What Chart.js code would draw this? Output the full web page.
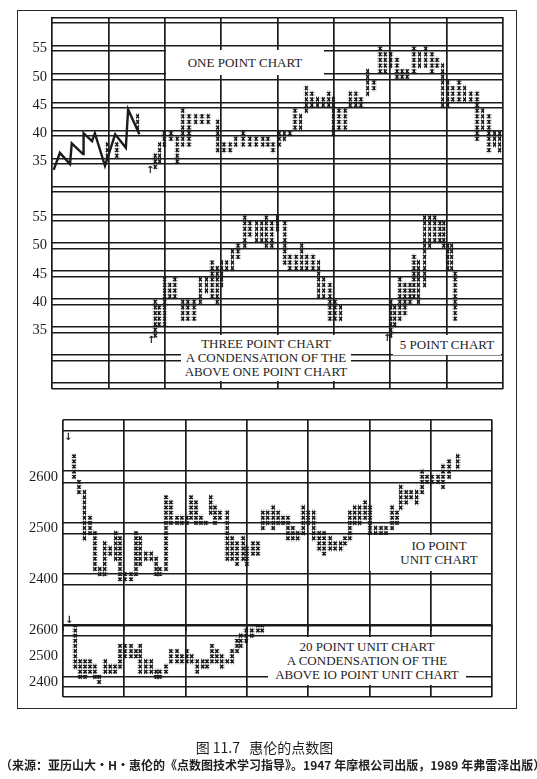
<!DOCTYPE html>
<html>
<head>
<meta charset="utf-8">
<script src="https://cdn.jsdelivr.net/npm/chart.js@4.4.1/dist/chart.umd.min.js"></script>
<style>
  body { margin: 0; background: #fff; }
  #page { position: relative; width: 537px; height: 779px; overflow: hidden; background: #fff; }
  #page canvas { position: absolute; left: 0; top: 0; }
  .frame { position: absolute; left: 17px; top: 10px; width: 500px; height: 699px; box-sizing: border-box; border: 1.5px solid #2a2a2a; }
  .tag { position: absolute; background: #fff; display: flex; flex-direction: column; align-items: center; justify-content: center;
         font: 13px "Liberation Serif", serif; line-height: 14px; color: #1e1e1e; white-space: nowrap; }
  .arrow { position: absolute; font: bold 10px "DejaVu Sans", sans-serif; color: #1e1e1e; line-height: 10px; }
  .cap { position: absolute; left: 0; width: 537px; text-align: center; font-family: "Noto Sans CJK SC", sans-serif; color: #1e1e1e; white-space: nowrap; }
</style>
</head>
<body>
<div id="page">
  <div class="frame"></div>
  <canvas id="one" width="537" height="779"></canvas>
  <canvas id="three" width="537" height="779"></canvas>
  <canvas id="ten" width="537" height="779"></canvas>
  <canvas id="twenty" width="537" height="779"></canvas>

  <div class="tag" style="left:166px;top:50px;width:158px;height:25px;">ONE POINT CHART</div>
  <div class="tag" style="left:181px;top:335px;width:170px;height:46px;">
    <div>THREE POINT CHART</div><div>A CONDENSATION OF THE</div><div>ABOVE ONE POINT CHART</div>
  </div>
  <div class="tag" style="left:393px;top:335px;width:108px;height:20px;">5 POINT CHART</div>
  <div class="tag" style="left:370px;top:535px;width:120px;height:36px;padding-left:18px;box-sizing:border-box;">
    <div>IO POINT</div><div>UNIT CHART</div>
  </div>
  <div class="tag" style="left:268px;top:637px;width:198px;height:48px;">
    <div>20 POINT UNIT CHART</div><div>A CONDENSATION OF THE</div><div>ABOVE IO POINT UNIT CHART</div>
  </div>

  <div class="arrow" style="left:146px;top:165px;">↑</div>
  <div class="arrow" style="left:147px;top:335px;">↑</div>
  <div class="arrow" style="left:383px;top:333px;">↑</div>
  <div class="arrow" style="left:64px;top:432px;">↓</div>
  <div class="arrow" style="left:65px;top:615px;">↓</div>

  <div class="cap" style="top:737px;width:529px;font-size:14px;">图 11.7&nbsp;&nbsp;&nbsp;惠伦的点数图</div>
  <div class="cap" style="top:756px;font-size:12px;font-weight:bold;">（来源：亚历山大・H・惠伦的《点数图技术学习指导》。1947 年摩根公司出版，1989 年弗雷泽出版）</div>
</div>

<script>
const ink = "#1b1b1b";

// one point chart: column position, lowest box, highest box
const onePos = [9.8, 11.5, 15.2, 18.3, 19.1, 19.9, 21.1, 22.2, 23.2, 24.3, 25.5, 26.6, 27.7, 29.4, 30.5, 31.6, 32.6, 33.9,
  35.1, 36.2, 37.4, 38.3, 39.2, 40.3, 41.2, 42.2, 43.1, 44.1, 45.1, 46.1, 47.1, 48.1, 49.1, 49.9, 50.9, 52.0, 52.9, 53.9,
  54.8, 56.0, 57.1, 58.2, 59.1, 60.1, 61.2, 62.1, 63.0, 64.2, 65.2, 66.3, 67.4, 68.3, 69.3, 70.2, 71.1, 72.2, 73.2, 74.3,
  75.4, 76.4, 77.5, 78.5, 79.4];
const oneLow = [36, 36, 41, 34, 35, 38, 39, 35, 38, 38, 42, 42, 42, 37, 37, 37, 38, 38,
  38, 38, 38, 38, 37, 38, 39, 40, 41, 41, 44, 45, 45, 45, 45, 40, 41, 41, 45, 45,
  45, 47, 48, 51, 51, 52, 50, 50, 50, 51, 52, 52, 51, 52, 45, 45, 46, 46, 46, 46,
  39, 41, 37, 38, 37];
const oneHigh = [38, 38, 43, 36, 38, 40, 40, 39, 44, 43, 43, 43, 43, 42, 38, 38, 39, 40,
  39, 39, 39, 39, 38, 40, 40, 40, 44, 43, 48, 47, 46, 46, 47, 46, 44, 44, 47, 47,
  46, 51, 49, 55, 54, 54, 53, 51, 51, 55, 54, 55, 54, 53, 52, 49, 48, 49, 48, 47,
  47, 44, 43, 40, 40];
// the hand drawn zigzag at the start of the one point chart
const zigPos = [0.3, 1.4, 3.2, 3.5, 5.5, 5.6, 7.1, 7.6, 9.4, 11.2, 13.1, 13.5, 15.5];
const zigVal = [33.5, 36.5, 34.5, 38.2, 36.3, 40, 38.6, 40, 34.2, 39.8, 37.4, 44.2, 39.8];

// three point chart (left) and 5 point chart (right)
const threePos = [18.3, 19.0, 20.0, 20.9, 21.8, 23.2, 24.1, 25.2, 26.3, 27.4, 28.4, 29.3, 30.1, 31.0, 32.0, 33.0, 34.2,
  35.1, 36.3, 37.2, 38.0, 39.0, 40.0, 41.3, 42.2, 43.3, 44.3, 45.2, 46.3, 47.3, 48.2, 49.3, 50.2, 51.2,
  60.1, 60.8, 61.7, 62.6, 63.5, 64.2, 65.0, 66.1, 67.0, 67.9, 68.8, 69.5, 70.2, 70.9, 71.5];
const threeLow = [34, 36, 36, 41, 41, 37, 37, 37, 40, 42, 41, 40, 43, 46, 46, 48, 50,
  52, 51, 51, 50, 50, 53, 47, 46, 46, 46, 46, 46, 41, 41, 37, 37, 37,
  34, 36, 37, 38, 40, 41, 40, 43, 50, 51, 51, 50, 46, 46, 37];
const threeHigh = [40, 39, 44, 43, 44, 40, 40, 40, 44, 44, 47, 46, 47, 47, 49, 50, 55,
  54, 54, 54, 55, 54, 55, 54, 48, 48, 50, 48, 48, 47, 44, 43, 40, 39,
  40, 39, 44, 43, 43, 48, 47, 55, 55, 55, 54, 54, 50, 50, 45];

// IO point unit chart
const tenPos = [1.8, 2.6, 3.5, 4.4, 5.2, 6.0, 6.8, 7.7, 8.6, 9.3, 10.1, 11.1, 11.9, 12.6, 13.5, 14.4, 15.2, 15.8, 16.8,
  17.6, 18.6, 19.4, 20.2, 20.9, 21.7, 22.5, 23.3, 24.1, 24.8, 25.6, 26.8, 27.6, 28.4, 29.4, 30.0, 31.0, 31.8, 32.6,
  33.4, 34.3, 35.1, 35.9, 36.7, 37.5, 38.3, 39.2, 40.0, 40.9, 41.8, 42.6, 43.6, 44.4, 45.3, 46.0, 46.8, 47.6, 48.4,
  49.3, 50.1, 51.0, 51.9, 52.7, 53.7, 54.5, 55.1, 56.0, 56.8, 57.7, 58.6, 59.4, 60.2, 61.2, 62.0, 63.0, 64.4];
const tenLow = [2600, 2570, 2480, 2490, 2420, 2410, 2410, 2450, 2440, 2400, 2400, 2400, 2410, 2430, 2440, 2440, 2410, 2410, 2420,
  2510, 2510, 2510, 2510, 2520, 2510, 2510, 2510, 2530, 2510, 2520, 2440, 2440, 2430, 2440, 2430, 2450, 2450, 2500,
  2510, 2500, 2510, 2510, 2480, 2480, 2480, 2490, 2510, 2480, 2460, 2450, 2460, 2460, 2460, 2470, 2480, 2510, 2510,
  2520, 2490, 2460, 2480, 2480, 2500, 2510, 2540, 2550, 2560, 2550, 2570, 2590, 2590, 2590, 2580, 2600, 2620];
const tenHigh = [2640, 2590, 2570, 2520, 2490, 2420, 2470, 2460, 2490, 2480, 2410, 2410, 2490, 2480, 2450, 2450, 2440, 2420, 2560,
  2550, 2520, 2520, 2520, 2560, 2550, 2520, 2510, 2560, 2540, 2530, 2530, 2480, 2470, 2480, 2460, 2470, 2470, 2530,
  2530, 2540, 2530, 2520, 2520, 2500, 2490, 2540, 2530, 2530, 2490, 2490, 2480, 2470, 2470, 2480, 2530, 2540, 2540,
  2550, 2540, 2500, 2500, 2500, 2540, 2530, 2580, 2570, 2570, 2570, 2610, 2600, 2600, 2600, 2620, 2630, 2640];

// 20 point unit chart
const twentyPos = [2.0, 2.8, 3.6, 4.4, 5.2, 5.9, 6.9, 7.7, 8.5, 9.3, 10.1, 11.1, 11.9, 12.6, 13.5, 14.4, 15.2, 15.8, 16.8,
  17.6, 18.6, 19.4, 20.2, 21.0, 21.9, 22.8, 23.5, 24.3, 25.1, 25.9, 26.8, 27.6, 28.4, 29.0, 29.9, 30.8, 31.8, 32.5];
const twentyLow = [2460, 2420, 2420, 2440, 2420, 2400, 2440, 2440, 2440, 2460, 2500, 2500, 2500, 2440, 2440, 2440, 2420, 2420, 2440,
  2480, 2480, 2480, 2480, 2480, 2440, 2460, 2460, 2480, 2480, 2460, 2480, 2480, 2520, 2540, 2560, 2580, 2600, 2600];
const twentyHigh = [2620, 2480, 2480, 2480, 2460, 2420, 2480, 2460, 2460, 2540, 2540, 2540, 2520, 2540, 2480, 2480, 2440, 2440, 2460,
  2520, 2520, 2500, 2520, 2500, 2480, 2480, 2480, 2540, 2520, 2500, 2480, 2520, 2560, 2580, 2600, 2600, 2620, 2620];

// price scale labels and the levels that carry a double rule
const oneLabels = [55, 50, 45, 40, 35];
const oneRules = [60, 55, 50, 45, 40, 35, 30];
const threeLabels = [55, 50, 45, 40, 35];
const threeRules = [55, 50, 45, 40, 35, 30, 25];
const tenLabels = [2600, 2500, 2400];
const tenRules = [2700, 2600, 2500, 2400, 2300];
const twentyLabels = [2600, 2500, 2400];
const twentyRules = [2600, 2400];

// small "x" glyph, repeated once per box inside each column
const tile = document.createElement("canvas");
tile.width = 10;
tile.height = 10;
const tc = tile.getContext("2d");
tc.strokeStyle = ink;
tc.lineWidth = 3.2;
tc.beginPath();
tc.moveTo(1.5, 1.5); tc.lineTo(8.5, 8.5);
tc.moveTo(8.5, 1.5); tc.lineTo(1.5, 8.5);
tc.stroke();

function crossFill(box, thick) {
  return (ctx) => {
    if (ctx.type !== "data" || !ctx.raw) return ink;
    const xs = ctx.chart.scales.x;
    const ys = ctx.chart.scales.y;
    const p = ctx.chart.ctx.createPattern(tile, "repeat");
    const left = xs.getPixelForValue(ctx.raw.x) - thick / 2;
    const top = ys.getPixelForValue(ctx.raw.y[1]);
    const h = ys.getPixelForValue(ys.min) - ys.getPixelForValue(ys.min + box);
    p.setTransform(new DOMMatrix().translate(left, top).scale(thick / 10, h / 10));
    return p;
  };
}

function pfChart(id, o) {
  const datasets = [{
    type: "bar",
    data: o.pos.map((p, i) => ({ x: p, y: [o.low[i] - o.box / 2, o.high[i] + o.box / 2] })),
    barThickness: o.thick,
    borderWidth: 0,
    grouped: false,
    backgroundColor: crossFill(o.box, o.thick),
  }];
  if (o.linePos) {
    datasets.push({
      type: "line",
      data: o.linePos.map((p, i) => ({ x: p, y: o.lineVal[i] })),
      borderColor: ink,
      borderWidth: 2.4,
      pointRadius: 0,
      tension: 0,
    });
  }

  const rules = o.rules.flatMap((v) => [v - o.gap, v + o.gap]).concat(o.extra || [])
    .filter((v) => v >= o.min - 1e-6 && v <= o.max + 1e-6);
  const yTicks = o.labels.concat(rules).sort((a, b) => a - b);
  const xTicks = [];
  for (let v = 0; v <= o.cols; v += 10) xTicks.push(v);

  return new Chart(document.getElementById(id), {
    type: "bar",
    data: { datasets },
    options: {
      responsive: false,
      animation: false,
      events: [],
      layout: { padding: o.pad },
      plugins: { legend: { display: false }, tooltip: { enabled: false } },
      scales: {
        x: {
          type: "linear",
          min: 0,
          max: o.cols,
          offset: false,
          afterBuildTicks: (s) => { s.ticks = xTicks.map((v) => ({ value: v })); },
          afterFit: (s) => { s.height = 0; },
          ticks: { display: false },
          grid: { offset: false, color: ink, lineWidth: 1.7, drawTicks: false },
          border: { display: false },
        },
        y: {
          type: "linear",
          min: o.min,
          max: o.max,
          afterBuildTicks: (s) => { s.ticks = yTicks.map((v) => ({ value: v })); },
          afterFit: (s) => { s.width = o.axisW; },
          ticks: {
            autoSkip: false,
            padding: 5,
            color: ink,
            font: { family: "Liberation Serif", size: 14.5 },
            callback: (v) => (o.labels.includes(v) ? String(v) : ""),
          },
          grid: {
            color: (c) => (c.tick && o.labels.includes(c.tick.value) ? "rgba(0,0,0,0)" : ink),
            lineWidth: 1.6,
            drawTicks: false,
          },
          border: { display: false },
        },
      },
    },
  });
}

pfChart("one", {
  pos: onePos, low: oneLow, high: oneHigh, box: 1, thick: 4,
  linePos: zigPos, lineVal: zigVal,
  labels: oneLabels, rules: oneRules, gap: 0.45,
  min: 29.4, max: 60.6, cols: 80, axisW: 52,
  pad: { left: 0, right: 34, top: 17.1, bottom: 586.1 },
});

pfChart("three", {
  pos: threePos, low: threeLow, high: threeHigh, box: 1, thick: 4,
  labels: threeLabels, rules: threeRules, gap: 0.55,
  min: 24.4, max: 59.5, cols: 80, axisW: 52,
  pad: { left: 0, right: 34, top: 192.35, bottom: 389.63 },
});

pfChart("ten", {
  pos: tenPos, low: tenLow, high: tenHigh, box: 10, thick: 4.5,
  labels: tenLabels, rules: tenRules, gap: 11,
  min: 2300, max: 2711, cols: 70, axisW: 63,
  pad: { left: 0, right: 45, top: 419.86, bottom: 148.5 },
});

pfChart("twenty", {
  pos: twentyPos, low: twentyLow, high: twentyHigh, box: 20, thick: 4.5,
  labels: twentyLabels, rules: twentyRules, gap: 20, extra: [2342],
  min: 2342, max: 2622, cols: 70, axisW: 63,
  pad: { left: 0, right: 45, top: 624.8, bottom: 82.1 },
});
</script>
</body>
</html>
